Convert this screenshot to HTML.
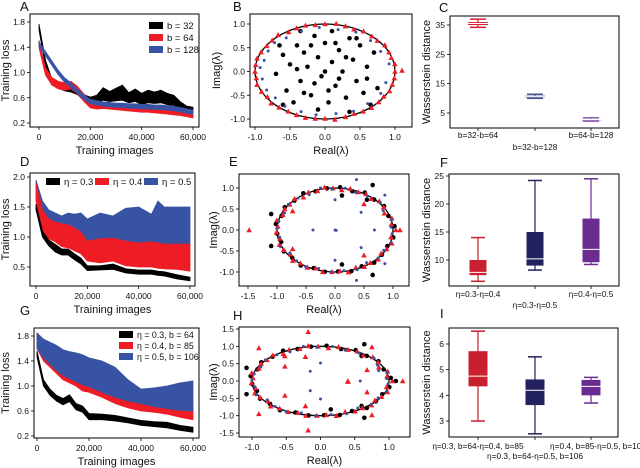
<!DOCTYPE html>
<html><head><meta charset="utf-8"><style>
html,body{margin:0;padding:0;background:#fff;}
svg{display:block;font-family:"Liberation Sans",Arial,sans-serif;}
</style></head><body>
<svg id="fig" width="640" height="468" viewBox="0 0 640 468" xmlns="http://www.w3.org/2000/svg"></svg>
<script>
// ---------- DATA ----------
const xA=[0,2500,5000,7500,10000,12500,15000,17500,20000,22500,25000,27500,30000,32500,35000,37500,40000,42500,45000,47500,50000,52500,55000,57500,60000];
const aBlack=[1.72,1.15,0.85,0.8,0.76,0.74,0.7,0.6,0.56,0.58,0.66,0.62,0.65,0.68,0.6,0.64,0.58,0.62,0.6,0.62,0.58,0.56,0.48,0.42,0.4];
const aBlackW=[0.1,0.1,0.1,0.1,0.1,0.1,0.1,0.1,0.1,0.12,0.2,0.16,0.2,0.24,0.16,0.2,0.18,0.2,0.18,0.2,0.18,0.16,0.12,0.1,0.1];
const aRed=[1.45,1.02,0.86,0.8,0.78,0.8,0.72,0.6,0.5,0.48,0.48,0.47,0.46,0.45,0.44,0.43,0.42,0.42,0.41,0.4,0.39,0.38,0.37,0.35,0.33];
const aRedW=[0.12,0.12,0.12,0.12,0.12,0.12,0.12,0.12,0.12,0.12,0.1,0.1,0.1,0.1,0.1,0.1,0.1,0.1,0.1,0.1,0.1,0.1,0.1,0.1,0.1];
const aBlue=[1.45,1.3,1.15,1.0,0.88,0.8,0.7,0.61,0.54,0.52,0.5,0.49,0.48,0.48,0.47,0.47,0.46,0.46,0.45,0.45,0.44,0.43,0.41,0.39,0.37];
const xD=[0,2500,5000,7500,10000,12500,15000,17500,20000,25000,30000,35000,40000,45000,47500,50000,55000,60000];
const dBlueHi=[1.95,1.6,1.45,1.4,1.35,1.4,1.38,1.4,1.3,1.4,1.35,1.48,1.5,1.38,1.6,1.5,1.5,1.5];
const dBlueLo=[1.75,1.35,1.25,1.2,1.15,1.12,1.1,1.02,0.9,0.92,0.95,0.9,0.88,0.9,0.88,0.87,0.87,0.86];
const dRedHi=[1.9,1.45,1.3,1.25,1.22,1.2,1.15,1.08,0.93,0.97,0.98,0.93,0.9,0.92,0.9,0.88,0.88,0.88];
const dRedLo=[1.6,1.1,0.97,0.92,0.84,0.82,0.77,0.72,0.6,0.57,0.6,0.52,0.5,0.5,0.48,0.47,0.46,0.43];
const dBlackHi=[1.55,1.1,0.95,0.88,0.8,0.8,0.72,0.65,0.52,0.52,0.55,0.47,0.45,0.45,0.43,0.42,0.37,0.33];
const dBlackLo=[1.45,1.0,0.85,0.75,0.7,0.7,0.62,0.55,0.44,0.45,0.46,0.4,0.38,0.38,0.36,0.35,0.3,0.27];
const xG=[0,2500,5000,7500,10000,12500,15000,17500,20000,25000,30000,35000,40000,45000,50000,55000,60000];
const gBlueHi=[1.85,1.75,1.7,1.65,1.58,1.55,1.53,1.5,1.45,1.4,1.3,1.1,0.95,0.97,1.0,1.05,1.08];
const gBlueLo=[1.6,1.45,1.35,1.25,1.17,1.12,1.07,1.02,0.99,0.9,0.82,0.76,0.72,0.67,0.64,0.61,0.6];
const gRedHi=[1.85,1.6,1.5,1.4,1.3,1.2,1.12,1.05,1.0,0.92,0.84,0.78,0.74,0.69,0.66,0.63,0.68];
const gRedLo=[1.6,1.4,1.3,1.2,1.1,1.05,1.0,0.92,0.9,0.82,0.72,0.65,0.6,0.58,0.55,0.5,0.46];
const gBlackHi=[1.56,1.1,0.95,0.85,0.8,0.86,0.72,0.68,0.56,0.55,0.53,0.49,0.45,0.43,0.42,0.37,0.34];
const gBlackLo=[1.46,1.0,0.85,0.76,0.7,0.75,0.62,0.58,0.46,0.46,0.44,0.41,0.37,0.35,0.33,0.29,0.26];
// eigenvalues
const bInner=[[-0.6,0.35],[-0.55,-0.4],[-0.4,0.55],[-0.4,0.05],[-0.35,-0.2],[-0.3,0.4],[-0.25,0.1],[-0.2,-0.5],[-0.15,0.75],[-0.1,0.3],[-0.05,-0.1],[0,0.6],[0.05,-0.65],[0.1,0.2],[0.15,-0.3],[0.2,0.45],[0.25,0],[0.3,-0.55],[0.35,0.7],[0.4,0.25],[0.45,-0.2],[0.5,0.55],[0.55,-0.45],[0.6,0.1],[0.65,-0.7],[0.7,0.4],[-0.7,-0.05],[-0.65,0.55],[-0.5,0.15],[-0.45,-0.65],[-0.2,0.55],[0,0],[0.1,0.85],[0.3,0.3],[-0.1,-0.8],[0.45,0.7],[0.6,-0.15],[-0.3,-0.45],[0.2,-0.15],[-0.6,-0.7],[0.75,-0.35],[0.05,-0.4],[-0.35,0.85],[0.35,-0.85],[-0.15,-0.25],[0.15,0.6]];
const bRedAng=[0,9,17,24,33,41,48,57,65,73,81,90,98,106,114,122,131,139,147,156,164,172,180,188,196,205,213,221,229,238,246,254,262,270,278,287,295,303,311,320,328,336,344,352];
const bRedR=[1,1.01,0.99,1,1.02,0.99,1,1.01,0.98,1,1.02,1,0.99,1.01,1,0.98,1.02,1,0.99,1,1.01,1,1,0.99,1.01,1,0.98,1.02,1,0.99,1,1.01,1,0.99,1.02,1,0.98,1,1.01,1,0.99,1.01,1,1];
const bRedOut=[[-1.1,0.38],[-1.1,-0.38],[1.1,0.02]];
const bBlueAng=[10,28,45,62,78,95,112,128,140,152,165,175,190,205,218,232,248,262,280,296,312,330,345];
const bBlueR=[0.93,0.9,0.92,0.94,0.9,0.93,0.91,0.9,0.94,0.92,0.9,0.93,0.91,0.92,0.9,0.93,0.91,0.92,0.9,0.93,0.91,0.92,0.9];
const eBlackAng=[5,20,34,47,60,72,85,98,110,122,135,148,160,172,185,197,210,222,235,248,260,273,286,298,311,324,337,350];
const eBlackR=[1.03,0.98,1.02,0.99,1.03,0.97,1.02,1.0,0.98,1.03,0.99,1.02,0.98,1.03,1.0,0.97,1.02,0.99,1.03,0.98,1.01,0.99,1.02,0.98,1.03,1.0,0.98,1.02];
const eRedAng=[0,8,16,25,33,42,50,58,66,75,83,92,100,108,117,125,133,142,150,158,167,175,183,192,200,208,217,225,233,242,250,258,267,275,283,292,300,308,317,325,333,342,350];
const eRedR=[1.05,0.98,1.02,0.94,1.0,1.03,0.97,1.01,0.99,1.02,0.96,1.0,1.03,0.98,1.01,0.95,1.02,0.99,1.0,0.97,1.03,0.99,1.01,0.97,1.02,1.0,0.96,1.03,0.99,1.01,0.97,1.02,1.0,0.98,1.03,0.96,1.01,0.99,1.02,0.97,1.0,1.03,0.98];
const eBlueAng=[4,14,29,40,55,68,80,93,104,118,130,143,155,168,178,190,203,215,228,240,253,266,279,292,305,318,330,343,355];
const eBlueR=[0.97,1.0,0.95,1.02,0.98,0.96,1.01,0.97,1.03,0.95,0.99,1.01,0.96,0.99,1.0,0.97,1.02,0.95,0.99,1.01,0.96,1.0,0.98,1.02,0.95,1.0,0.97,1.01,0.99];
const eBlackOut=[[-1.1,0.38],[-1.1,-0.38],[0.65,1.07],[0.65,-1.07],[0.12,0.82],[0.12,-0.82],[0.55,0.72]];
const eRedOut=[[-1.48,0],[-0.73,0.45],[-0.73,-0.45],[0.5,0.62],[0.5,-0.6],[1.12,0]];
const eBlueOut=[[0.37,1.2],[0.37,-1.2],[-0.38,0],[0,0],[0.02,-0.01],[0.45,0.42],[0.45,-0.42],[0.68,0],[0.86,0.83],[0.86,-0.8],[0,0.72],[0,-0.72]];
const hBlackOut=[[-1.08,0.38],[-1.08,-0.38],[0.64,1.06],[0.64,-1.06],[1.1,0],[0.15,-0.82],[0.6,-0.72],[0.6,0.72]];
const hRedOut=[[-0.18,1.42],[-0.18,-1.42],[-0.9,0.95],[-0.9,-0.95],[-0.52,0.42],[-0.52,-0.42],[-0.22,0.7],[-0.22,-0.72],[0.4,0],[0.75,0.98],[0.75,-0.98],[0.68,0.32],[0.68,-0.32],[1.2,0],[-0.52,0.72],[0.4,-0.02]];
const hBlueOut=[[-0.15,0.28],[-0.15,-0.28],[0,0.52],[0,-0.52],[0.58,0],[0.85,0.3]];
// box plots
const boxCats=["b=32-b=64","b=32-b=128","b=64-b=128"];
const cMin=[34.2,10.0,2.2],cQ1=[35.0,10.3,2.6],cMed=[35.5,10.6,2.8],cQ3=[36.0,10.9,3.0],cMax=[37.0,11.4,3.4];
const fCats=["η=0.3-η=0.4","η=0.3-η=0.5","η=0.4-η=0.5"];
const fMin=[6.2,8.2,9.2],fQ1=[7.3,9.0,9.6],fMed=[7.8,10.2,11.9],fQ3=[10.0,15.0,17.4],fMax=[14.0,24.2,24.5];
const iCats=["η=0.3, b=64-η=0.4, b=85","η=0.3, b=64-η=0.5, b=106","η=0.4, b=85-η=0.5, b=106"];
const iMin=[3.0,2.5,3.7],iQ1=[4.35,3.62,4.0],iMed=[4.75,4.2,4.35],iQ3=[5.72,4.62,4.6],iMax=[6.5,5.5,4.7];

// ---------- DRAWING ----------
const NS="http://www.w3.org/2000/svg";
const svg=document.getElementById('fig');
function mk(tag,attrs,parent){const e=document.createElementNS(NS,tag);for(const k in attrs)e.setAttribute(k,attrs[k]);(parent||svg).appendChild(e);return e;}
function txt(s,x,y,size,anchor,parent,rot){const t=mk('text',{x:x,y:y,'font-size':size,'text-anchor':anchor||'middle',fill:'#111'},parent);if(rot)t.setAttribute('transform','rotate(-90 '+x+' '+y+')');t.textContent=s;return t;}
function lin(d0,d1,r0,r1){return v=>r0+(v-d0)*(r1-r0)/(d1-d0);}
const RED='#ee1c25',BLUE='#3953a4',BLK='#000';

function panel(name,letter,lx,ly,fr,xs,ys,xt,xl,yt,yl,xtitle,ytitle,ytx){
  const g=mk('g',{});
  
  
  const L=txt(letter,lx,ly,13,'start',g);
  
  
  const ax=mk('g',{},g);
  
  
  xt.forEach((v,i)=>{const X=xs(v);mk('line',{x1:X,x2:X,y1:fr[3],y2:fr[3]+3,stroke:'#000','stroke-width':0.8},ax);if(xl[i]!=='')txt(xl[i],X,fr[3]+13,8.5,'middle',ax);});
  yt.forEach((v,i)=>{const Y=ys(v);mk('line',{x1:fr[0]-3,x2:fr[0],y1:Y,y2:Y,stroke:'#000','stroke-width':0.8},ax);txt(yl[i],fr[0]-5,Y+3,8.5,'end',ax);});
  if(xtitle){const t=txt(xtitle,(fr[0]+fr[2])/2,fr[3]+27,11,'middle',ax);}
  if(ytitle){const t=txt(ytitle,ytx,(fr[1]+fr[3])/2,11,'middle',ax,true);}
  const clip='c'+letter;
  const cp=mk('clipPath',{id:clip},g);mk('rect',{x:fr[0],y:fr[1],width:fr[2]-fr[0],height:fr[3]-fr[1]},cp);
  const plot=mk('g',{'clip-path':'url(#'+clip+')'},g);
  
  
  g._frame=()=>mk('rect',{x:fr[0],y:fr[1],width:fr[2]-fr[0],height:fr[3]-fr[1],fill:'none',stroke:'#000','stroke-width':1},g);
  return {g:g,plot:plot};
}
function band(p,xs,ys,xd,hi,lo,col,nm){
  let d='M'+xd.map((v,i)=>xs(v)+','+ys(hi[i])).join('L');
  for(let i=xd.length-1;i>=0;i--)d+='L'+xs(xd[i])+','+ys(lo[i]);
  const e=mk('path',{d:d+'Z',fill:col,stroke:col,'stroke-width':0.8},p);
  
  
}
function legend(g,items,x,y,dx,dy,fs){
  items.forEach((it,i)=>{const X=x+i*dx,Y=y+i*dy;
    const le=mk('g',{},g);
    
    
    mk('rect',{x:X,y:Y-6,width:14,height:7,fill:it[1]},le);txt(it[0],X+18,Y+1,fs,'start',le);});
}
const xTicks=[0,20000,40000,60000],xLab=['0','20,000','40,000','60,000'];

// Panel A
(function(){const fr=[30,14,199,127];const xs=lin(0,60000,39,193),ys=lin(0.2,1.8,123,22);
const P=panel('panel-a','A',20,11,fr,xs,ys,xTicks,xLab,[0.2,0.6,1.0,1.4,1.8],['0.2','0.6','1.0','1.4','1.8'],'Training images','Training loss',9);
band(P.plot,xs,ys,xA,aBlack.map((v,i)=>v+aBlackW[i]/2),aBlack.map((v,i)=>v-aBlackW[i]/2),BLK,'band-b32');
band(P.plot,xs,ys,xA,aRed.map((v,i)=>v+aRedW[i]/2),aRed.map((v,i)=>v-aRedW[i]/2),RED,'band-b64');
band(P.plot,xs,ys,xA,aBlue.map(v=>v+0.035),aBlue.map(v=>v-0.035),BLUE,'band-b128');
legend(P.g,[['b = 32',BLK],['b = 64',RED],['b = 128',BLUE]],149,28,0,12,9.5);
P.g._frame();})();

// Panel D
(function(){const fr=[30,173,195,286];const xs=lin(0,60000,36,190),ys=lin(0.5,2.0,267,177);
const P=panel('panel-d','D',20,166,fr,xs,ys,xTicks,xLab,[0.5,1.0,1.5,2.0],['0.5','1.0','1.5','2.0'],'Training images','Training loss',9);
band(P.plot,xs,ys,xD,dBlueHi,dBlueLo,BLUE,'band-eta05');
band(P.plot,xs,ys,xD,dRedHi,dRedLo,RED,'band-eta04');
band(P.plot,xs,ys,xD,dBlackHi,dBlackLo,BLK,'band-eta03');
legend(P.g,[['η = 0.3',BLK],['η = 0.4',RED],['η = 0.5',BLUE]],46,184,49,0,9.5);
P.g._frame();})();

// Panel G
(function(){const fr=[34,328,199,438];const xs=lin(0,60000,37,193),ys=lin(0.2,1.8,436,336);
const P=panel('panel-g','G',20,315,fr,xs,ys,xTicks,xLab,[0.2,0.6,1.0,1.4,1.8],['0.2','0.6','1.0','1.4','1.8'],'Training images','Training loss',9);
band(P.plot,xs,ys,xG,gRedHi,gRedLo,RED,'band-eta04-b85');
band(P.plot,xs,ys,xG,gBlueHi,gBlueLo,BLUE,'band-eta05-b106');
band(P.plot,xs,ys,xG,gBlackHi,gBlackLo,BLK,'band-eta03-b64');
legend(P.g,[['η = 0.3, b = 64',BLK],['η = 0.4, b = 85',RED],['η = 0.5, b = 106',BLUE]],119,337,0,11,8.8);
P.g._frame();})();

function tri(p,X,Y){const s=2.8;const e=mk('polygon',{points:X+','+(Y-s)+' '+(X-s)+','+(Y+s*0.8)+' '+(X+s)+','+(Y+s*0.8),fill:RED},p);return e;}
function dot(p,X,Y,r,c){return mk('circle',{cx:X,cy:Y,r:r,fill:c},p);}
function polar(a,r){const t=a*Math.PI/180;return [r*Math.cos(t),r*Math.sin(t)];}
function eig(P,xs,ys,blackPts,redPts,bluePts,line){
  if(line){const e=mk('ellipse',{cx:xs(0),cy:ys(0),rx:Math.abs(xs(1)-xs(0)),ry:Math.abs(ys(1)-ys(0)),fill:'none',stroke:'#000','stroke-width':1.3},P.plot);
    }
  const gb=mk('g',{},P.plot);
  const gr=mk('g',{},P.plot);
  const gu=mk('g',{},P.plot);
  blackPts.forEach(p=>dot(gb,xs(p[0]),ys(p[1]),2.3,BLK));
  redPts.forEach(p=>tri(gr,xs(p[0]),ys(p[1])));
  bluePts.forEach(p=>dot(gu,xs(p[0]),ys(p[1]),1.5,BLUE));
}
const ringPts=(A,R)=>A.map((a,i)=>polar(a,R[i]));

// Panel B
(function(){const fr=[250,14,412,127];const xs=lin(-1,1,255,395),ys=lin(-1,1,119,24);
const P=panel('panel-b','B',233,11,fr,xs,ys,[-1,-0.5,0,0.5,1],['-1.0','-0.5','0.0','0.5','1.0'],[-1,-0.5,0,0.5,1],['-1.0','-0.5','0.0','0.5','1.0'],'Real(λ)','Imag(λ)',220);
eig(P,xs,ys,bInner,ringPts(bRedAng,bRedR).concat(bRedOut),ringPts(bBlueAng,bBlueR),true);
P.g._frame();})();

// Panel E
(function(){const fr=[239,174,409,286];const xs=lin(-1.5,1,248,393),ys=lin(-1,1,272,188);
const P=panel('panel-e','E',229,166,fr,xs,ys,[-1.5,-1,-0.5,0,0.5,1],['-1.5','-1.0','-0.5','0.0','0.5','1.0'],[-1,-0.5,0,0.5,1],['-1.0','-0.5','0.0','0.5','1.0'],'Real(λ)','Imag(λ)',217);
eig(P,xs,ys,ringPts(eBlackAng,eBlackR).concat(eBlackOut),ringPts(eRedAng,eRedR).concat(eRedOut),ringPts(eBlueAng,eBlueR).concat(eBlueOut),true);
P.g._frame();})();

// Panel H
(function(){const fr=[239,327,410,437];const xs=lin(-1,1,252,389),ys=lin(-1.5,1.5,433,329);
const P=panel('panel-h','H',233,320,fr,xs,ys,[-1,-0.5,0,0.5,1],['-1.0','-0.5','0.0','0.5','1.0'],[-1.5,-1,-0.5,0,0.5,1,1.5],['-1.5','-1.0','-0.5','0.0','0.5','1.0','1.5'],'Real(λ)','Imag(λ)',217);
eig(P,xs,ys,ringPts(eBlackAng,eBlackR).concat(hBlackOut),ringPts(eRedAng,eRedR).concat(hRedOut),ringPts(eBlueAng,eBlueR).concat(hBlueOut),true);
P.g._frame();})();

// box plots
function boxes(P,xc,ys,mn,q1,md,q3,mx,cols,w,cw){
  mn.forEach((v,i)=>{const X=xc[i],c=cols[i];
    const b=mk('g',{},P.plot);
    
    
    mk('line',{x1:X,x2:X,y1:ys(mx[i]),y2:ys(mn[i]),stroke:c,'stroke-width':1.2},b);
    mk('line',{x1:X-cw/2,x2:X+cw/2,y1:ys(mx[i]),y2:ys(mx[i]),stroke:c,'stroke-width':1.5},b);
    mk('line',{x1:X-cw/2,x2:X+cw/2,y1:ys(mn[i]),y2:ys(mn[i]),stroke:c,'stroke-width':1.5},b);
    mk('rect',{x:X-w/2,y:ys(q3[i]),width:w,height:Math.max(1.5,ys(q1[i])-ys(q3[i])),fill:c},b);
    mk('line',{x1:X-w/2,x2:X+w/2,y1:ys(md[i]),y2:ys(md[i]),stroke:'#fff','stroke-width':1},b);
  });
}
function catLabels(P,xc,cats,y1,y2){cats.forEach((c,i)=>{const t=txt(c,xc[i],i===1?y2:y1,8.3,'middle',P.g);});}
const xc=[478,535,591];
(function(){const fr=[450,16,619,128];const ys=lin(5,35,113,25);
const P=panel('panel-c','C',439,12,fr,x=>x,ys,xc,['','',''],[5,15,25,35],['5','15','25','35'],'','Wasserstein distance',430);
boxes(P,xc,ys,cMin,cQ1,cMed,cQ3,cMax,['#d8202f','#50508c','#8c66b4'],20,16);
catLabels(P,xc,boxCats,138,150);P.g._frame();})();
(function(){const fr=[449,174,619,286];const ys=lin(10,25,260,176);
const P=panel('panel-f','F',440,167,fr,x=>x,ys,xc,['','',''],[10,15,20,25],['10','15','20','25'],'','Wasserstein distance',430);
boxes(P,xc,ys,fMin,fQ1,fMed,fQ3,fMax,['#c8202f','#23215e','#6a2c91'],17,14);
catLabels(P,xc,fCats,297,308);P.g._frame();})();
(function(){const fr=[449,328,618,437];const ys=lin(3,6,421,344);
const P=panel('panel-i','I',440,318,fr,x=>x,ys,xc,['','',''],[3,4,5,6],['3','4','5','6'],'','Wasserstein distance',430);
boxes(P,xc,ys,iMin,iQ1,iMed,iQ3,iMax,['#c8202f','#23215e','#6a2c91'],19,14);
catLabels(P,[478,535,598],iCats,449,459);P.g._frame();})();
</script>
</body></html>
